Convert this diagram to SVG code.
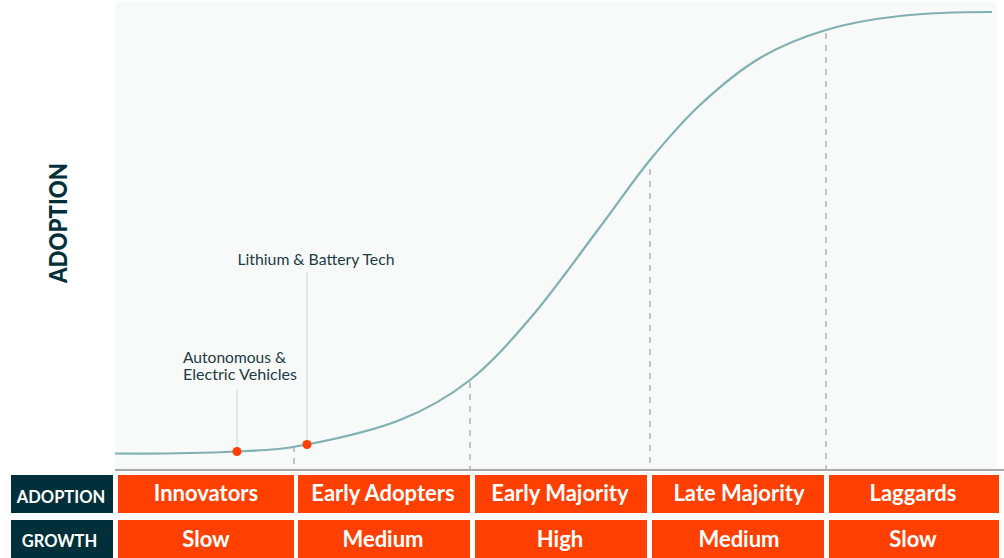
<svg xmlns="http://www.w3.org/2000/svg" width="1004" height="558" viewBox="0 0 1004 558">
<style>
.bg{fill:#f8f9f9}
.axis{stroke:#aaaaaa;stroke-width:2;fill:none}
.dash{stroke:#b3b3b3;stroke-width:1.5;stroke-dasharray:6,6;fill:none}
.lead{stroke:#d9d9d9;stroke-width:1.2;fill:none}
.curve{stroke:#7fb0b2;stroke-width:2.2;fill:none}
.dot{fill:#ff4000}
.org{fill:#ff4000}
.dark{fill:#02303a}
.lbl{font-family:Lato,"Liberation Sans",sans-serif;font-weight:700;fill:#ffffff;text-anchor:middle}
.big{font-size:22px}
.small{font-size:16.5px}
.note{font-family:Lato,"Liberation Sans",sans-serif;font-size:15px;fill:#1d3c45}
.yaxis{font-family:Lato,"Liberation Sans",sans-serif;font-size:25px;font-weight:900;fill:#02303a;text-anchor:middle}
</style>
<rect class="bg" x="115" y="2" width="882" height="468"/>
<g id="connectors">
<line class="dash" x1="294" y1="446" x2="294" y2="470"/>
<line class="dash" x1="470" y1="382" x2="470" y2="470"/>
<line class="dash" x1="650" y1="169" x2="650" y2="470"/>
<line class="dash" x1="826" y1="33" x2="826" y2="470"/>
<line class="lead" x1="237" y1="389" x2="237" y2="451"/>
<line class="lead" x1="307" y1="272" x2="307" y2="444"/>
<path class="curve" d="M115,453.5 C160,454 205,453 237,451.5 C269,450 279.8,449.75 307,444.5 C334.2,439.25 372.8,430.75 400,420 C427.2,409.25 447.8,397.5 470,380 C492.2,362.5 511.3,340.5 533,315 C554.7,289.5 580.5,252.8 600,227 C619.5,201.2 633.3,180.3 650,160 C666.7,139.7 681.7,122 700,105 C718.3,88 739,70.5 760,58 C781,45.5 802.7,37 826,30 C849.3,23 872.3,19 900,16 C927.7,13 970,12 992,12"/>
<line class="axis" x1="115" y1="470" x2="1004" y2="470"/>
</g>
<g id="yaxis-label"><text class="yaxis" transform="translate(67,223) rotate(-90)" textLength="120" lengthAdjust="spacingAndGlyphs">ADOPTION</text></g>
<g id="point-av">
<circle class="dot" cx="237" cy="451.5" r="4.5"/>
<text class="note" x="183" y="363" textLength="103" lengthAdjust="spacingAndGlyphs">Autonomous &amp;</text>
<text class="note" x="183" y="379.5" textLength="114" lengthAdjust="spacingAndGlyphs">Electric Vehicles</text>
</g>
<g id="point-lithium">
<circle class="dot" cx="307" cy="444.5" r="4.5"/>
<text class="note" x="237.5" y="265" textLength="157" lengthAdjust="spacingAndGlyphs">Lithium &amp; Battery Tech</text>
</g>
<g id="row-adoption">
<rect class="dark" x="11" y="475" width="102" height="38"/>
<text class="lbl small" x="61" y="502.5">ADOPTION</text>
</g>
<g id="row-growth">
<rect class="dark" x="11" y="520" width="102" height="38"/>
<text class="lbl small" x="59.5" y="547">GROWTH</text>
</g>
<g id="innovators">
<rect class="org" x="118" y="475" width="176" height="38"/>
<text class="lbl big" x="206" y="501">Innovators</text>
<rect class="org" x="118" y="520" width="176" height="38"/>
<text class="lbl big" x="206" y="547">Slow</text>
</g>
<g id="early-adopters">
<rect class="org" x="298" y="475" width="172" height="38"/>
<text class="lbl big" x="383" y="501">Early Adopters</text>
<rect class="org" x="298" y="520" width="172" height="38"/>
<text class="lbl big" x="383" y="547">Medium</text>
</g>
<g id="early-majority">
<rect class="org" x="475" y="475" width="172" height="38"/>
<text class="lbl big" x="560" y="501">Early Majority</text>
<rect class="org" x="475" y="520" width="172" height="38"/>
<text class="lbl big" x="560" y="547">High</text>
</g>
<g id="late-majority">
<rect class="org" x="652" y="475" width="172" height="38"/>
<text class="lbl big" x="739" y="501">Late Majority</text>
<rect class="org" x="652" y="520" width="172" height="38"/>
<text class="lbl big" x="739" y="547">Medium</text>
</g>
<g id="laggards">
<rect class="org" x="829" y="475" width="170" height="38"/>
<text class="lbl big" x="913" y="501">Laggards</text>
<rect class="org" x="829" y="520" width="170" height="38"/>
<text class="lbl big" x="913" y="547">Slow</text>
</g>
</svg>
